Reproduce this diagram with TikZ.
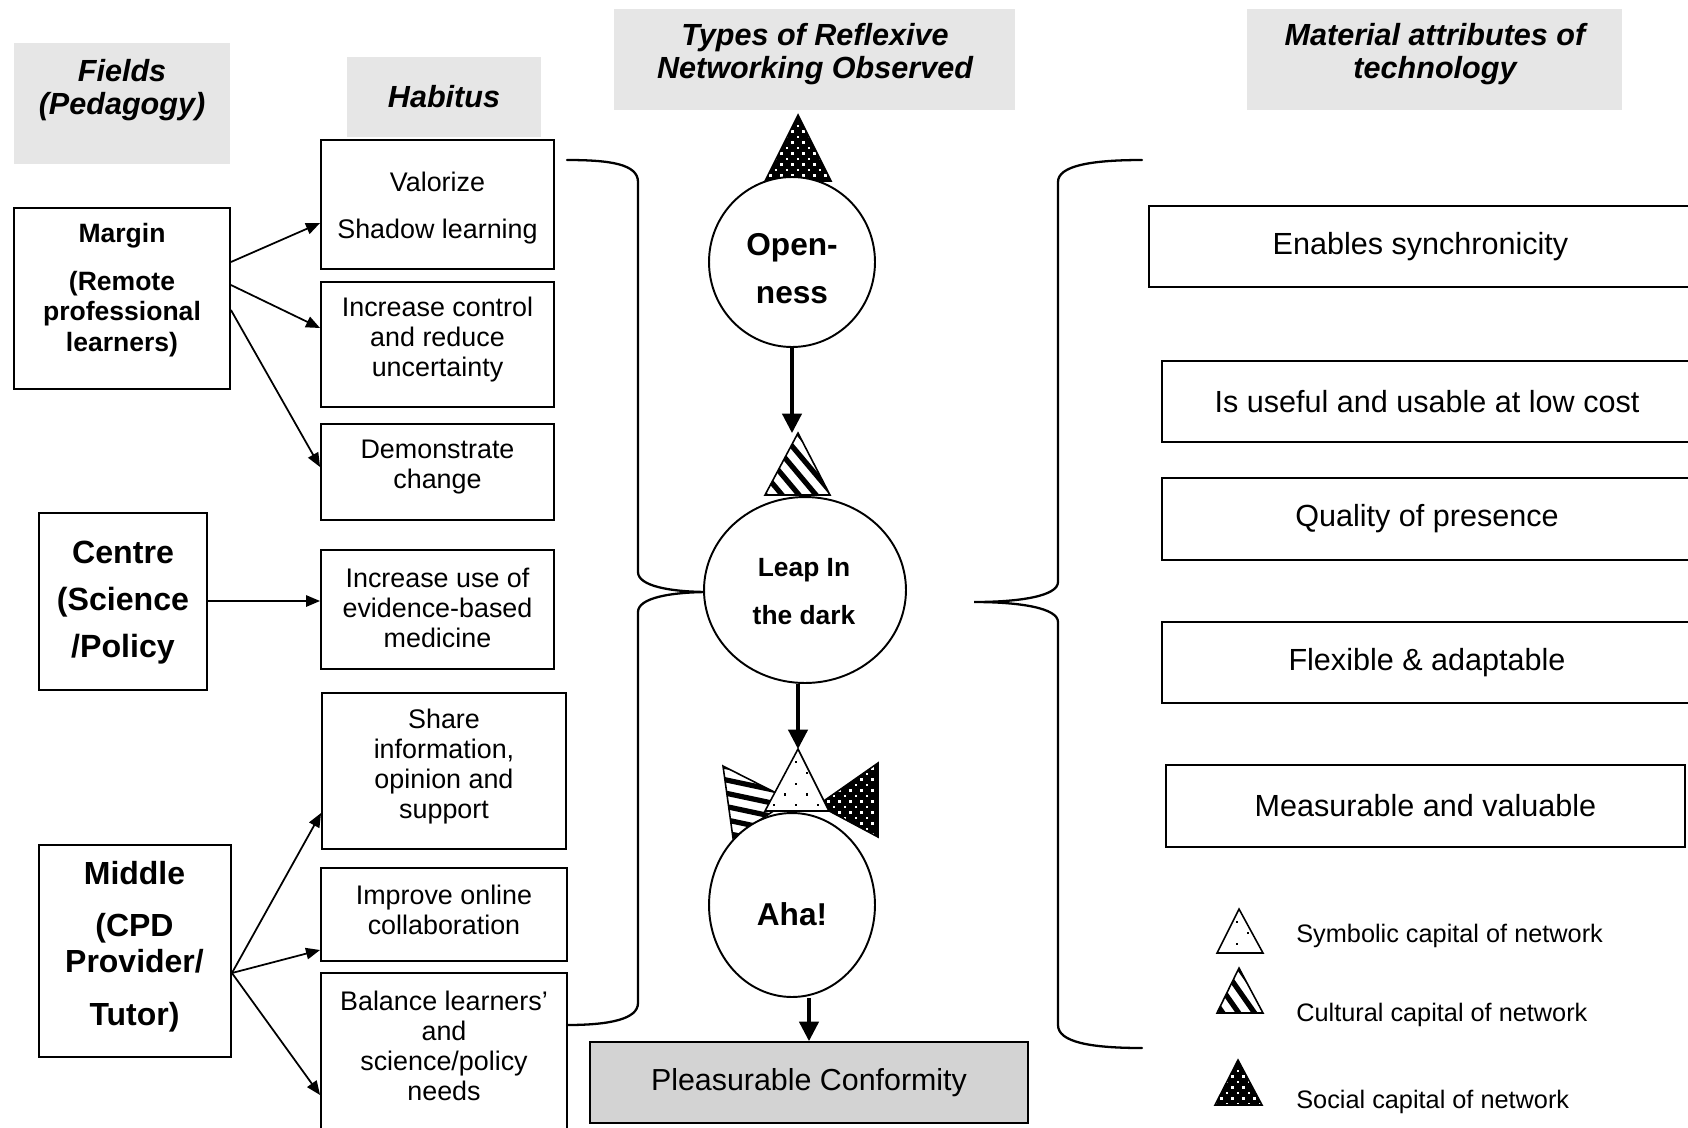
\documentclass[tikz,border=0pt]{standalone}
\usepackage{fontspec}
\setmainfont{Liberation Sans}
\usetikzlibrary{arrows.meta,shapes.geometric}
\definecolor{hdrgray}{HTML}{E6E6E6}
\definecolor{boxgray}{HTML}{D3D3D3}
\newcommand\fs[2]{\fontsize{#1}{#2}\selectfont}

% capital markers: black triangle with white dots (social)
\newcommand\socialtri[3]{%
  \begin{scope}
    \clip #1 -- #2 -- #3 -- cycle;
    \fill[black] #1 -- #2 -- #3 -- cycle;
    \begin{scope}[shift={#1}]
      \foreach \r in {-14,...,16}{
        \foreach \c in {-8,...,8}{
          \pgfmathsetmacro\dx{\c*11+mod(\r+100,2)*5.5}
          \pgfmathsetmacro\dy{\r*5.5}
          \fill[white] (\dx-1.3,\dy-1.3) rectangle (\dx+1.3,\dy+1.3);
        }}
    \end{scope}
  \end{scope}
  \draw[tri] #1 -- #2 -- #3 -- cycle;}

% white triangle with sparse black dots (symbolic)
\newcommand\symbtri[3]{%
  \begin{scope}
    \clip #1 -- #2 -- #3 -- cycle;
    \fill[white] #1 -- #2 -- #3 -- cycle;
    \begin{scope}[shift={#1}]
      \foreach \r in {0,...,6}{
        \foreach \c in {-4,...,4}{
          \pgfmathsetmacro\dx{-2+\c*22+mod(\r,2)*11}
          \pgfmathsetmacro\dy{13+\r*10.8}
          \fill[black] (\dx-1.1,\dy-1.1) rectangle (\dx+1.1,\dy+1.1);
        }}
    \end{scope}
  \end{scope}
  \draw[tri] #1 -- #2 -- #3 -- cycle;}

% white triangle with black stripes (cultural); #4 stripe angle, #5 origin
\newcommand\culturaltri[5]{%
  \begin{scope}
    \clip #1 -- #2 -- #3 -- cycle;
    \fill[white] #1 -- #2 -- #3 -- cycle;
    \begin{scope}[shift={#5}, rotate=#4]
      \foreach \k in {-10,...,10}{
        \fill[black] (-150,\k*13-2.6) rectangle (150,\k*13+2.6);
      }
    \end{scope}
  \end{scope}
  \draw[tri] #1 -- #2 -- #3 -- cycle;}

\begin{document}
\begin{tikzpicture}[x=0.02cm, y=-0.02cm,
  box/.style={draw, line width=1.1pt, inner sep=0pt},
  hdr/.style={fill=hdrgray, inner sep=0pt},
  hdrtxt/.style={align=center, inner sep=0pt, font=\bfseries\itshape\fs{17.4}{19.2}},
  habtxt/.style={align=center, inner sep=0pt, font=\fs{15.3}{17.1}},
  fieldtxt/.style={align=center, inner sep=0pt, font=\bfseries\fs{18.2}{20.5}},
  rtxt/.style={font=\fs{17.4}{20}},
  legtxt/.style={anchor=west, inner sep=0pt, font=\fs{14.4}{17}},
  bubble/.style={ellipse, draw, fill=white, line width=1.1pt, inner sep=0pt},
  bubtxt/.style={align=center, inner sep=0pt, font=\bfseries\fs{18}{27.3}},
  tri/.style={line width=0.9pt, line join=miter},
  arr/.style={line width=1pt, -{Triangle[length=8pt,width=6.5pt]}},
  bigarr/.style={line width=1.8pt, -{Triangle[length=11pt,width=11pt]}},
  brace/.style={line width=1.3pt, line cap=round}]

\useasboundingbox[fill=white] (0,0) rectangle (1688,1127);

% column headings
\node[hdr, minimum width=4.32cm, minimum height=2.42cm] (hFields) at (122,103.5) {};
\node[hdrtxt] (tFields) at (122,90) {Fields\\(Pedagogy)};
\node[hdr, minimum width=3.88cm, minimum height=1.6cm, font=\bfseries\itshape\fs{17.4}{19.2}] (hHabitus) at (444,97) {Habitus};
\node[hdr, minimum width=8.02cm, minimum height=2.02cm] (hTypes) at (814.5,59.5) {};
\node[hdrtxt] (tTypes) at (815,54) {Types of Reflexive\\Networking Observed};
\node[hdr, minimum width=7.5cm, minimum height=2.02cm] (hMat) at (1434.5,59.5) {};
\node[hdrtxt] (tMat) at (1435,54) {Material attributes of\\technology};

% fields
\node[box, minimum width=4.32cm, minimum height=3.62cm] (marg) at (122,298.5) {};
\node[align=center, inner sep=0pt, font=\bfseries\fs{15.1}{17.4}] (tMarg) at (122,290)
  {Margin\\[9.7pt](Remote\\professional\\learners)};
\node[box, minimum width=3.36cm, minimum height=3.54cm] (cent) at (123,601.5) {};
\node[align=center, inner sep=0pt, font=\bfseries\fs{18.3}{26.7}] (tCent) at (123,603)
  {Centre\\(Science\\/Policy};
\node[box, minimum width=3.84cm, minimum height=4.24cm] (mid) at (135,951) {};
\node[fieldtxt] (tMid) at (134.5,946.5)
  {Middle\\[9.1pt](CPD\\Provider/\\[9.7pt]Tutor)};

% habitus
\node[box, minimum width=4.66cm, minimum height=2.58cm] (h1) at (437.5,204.5) {};
\node[habtxt] (t1) at (437.5,208) {Valorize\\[9.6pt]Shadow learning};
\node[box, minimum width=4.66cm, minimum height=2.5cm] (h2) at (437.5,344.5) {};
\node[habtxt] (t2) at (437.5,339.5) {Increase control\\and reduce\\uncertainty};
\node[box, minimum width=4.66cm, minimum height=1.92cm] (h3) at (437.5,472) {};
\node[habtxt] (t3) at (437.5,467) {Demonstrate\\change};
\node[box, minimum width=4.66cm, minimum height=2.38cm] (h4) at (437.5,609.5) {};
\node[habtxt] (t4) at (437.5,607.5) {Increase use of\\evidence-based\\medicine};
\node[box, minimum width=4.88cm, minimum height=3.12cm] (h5) at (444,771) {};
\node[habtxt] (t5) at (444,766.5) {Share\\information,\\opinion and\\support};
\node[box, minimum width=4.92cm, minimum height=1.86cm] (h6) at (444,914.5) {};
\node[habtxt] (t6) at (444,910) {Improve online\\collaboration};
\node[box, minimum width=4.92cm, minimum height=3.34cm] (h7) at (444,1056.5) {};
\node[habtxt] (t7) at (444,1045.5) {Balance learners’\\and\\science/policy\\needs};

% field -> habitus
\draw[arr] (marg.east |- 0,262) -- (h1.west |- 0,223);
\draw[arr] (marg.east |- 0,285) -- (h2.west |- 0,328);
\draw[arr] (marg.east |- 0,310) -- (h3.west |- 0,467);
\draw[arr] (cent.east |- 0,601) -- (h4.west |- 0,601);
\draw[arr] (mid.east |- 0,973) -- (h5.west |- 0,813);
\draw[arr] (mid.east |- 0,973) -- (h6.west |- 0,950);
\draw[arr] (mid.east |- 0,973) -- (h7.west |- 0,1095);

% braces
\draw[brace] (567,160) .. controls (610,160) and (638,164) .. (638,182) -- (638,572)
  .. controls (638,586) and (670,592) .. (710,592)
  .. controls (670,592) and (638,598) .. (638,612) -- (638,1003)
  .. controls (638,1019) and (610,1025) .. (567,1025);
\draw[brace] (1142,160) .. controls (1090,160) and (1058,166) .. (1058,182) -- (1058,582)
  .. controls (1058,596) and (1020,602) .. (974,602)
  .. controls (1020,602) and (1058,608) .. (1058,622) -- (1058,1025)
  .. controls (1058,1042) and (1090,1048) .. (1142,1048);

% capital markers on the networking types
\socialtri{(798,115)}{(765,181)}{(831,181)}
\culturaltri{(798,433)}{(765,495)}{(830,495)}{-50}{(798,433)}
\culturaltri{(723,766)}{(733,838)}{(790,800)}{-12}{(723,766)}
\socialtri{(878,763)}{(878,837)}{(818,805)}
\symbtri{(798,749)}{(765,811)}{(829,811)}
\coordinate (cultTop) at (798,433);
\coordinate (symTop) at (798,749);

% networking types
\node[bubble, minimum width=3.32cm, minimum height=3.40cm] (open) at (792,262) {};
\node[bubtxt] (tOpen) at (792,269) {Open-\\ness};
\node[bubble, minimum width=4.04cm, minimum height=3.72cm] (leap) at (805,590) {};
\node[align=center, inner sep=0pt, font=\bfseries\fs{15}{27.3}] (tLeap) at (804,592) {Leap In\\the dark};
\node[bubble, minimum width=3.32cm, minimum height=3.68cm] (aha) at (792,905) {};
\node[bubtxt] (tAha) at (792,914) {Aha!};
\node[box, fill=boxgray, minimum width=8.76cm, minimum height=1.62cm, font=\fs{17.3}{20}] (conf) at (809,1082.5) {Pleasurable Conformity};

\draw[bigarr] (open.south) -- (open.south |- cultTop);
\draw[bigarr] (symTop |- leap.south) -- (symTop);
\draw[bigarr] (conf.north |- aha.south) -- (conf.north);

% material attributes
\node[box, rtxt, minimum width=10.86cm, minimum height=1.62cm] (r1) at (1420.5,246.5) {Enables synchronicity};
\node[box, rtxt, minimum width=10.6cm, minimum height=1.62cm] (r2) at (1427,401.5) {Is useful and usable at low cost};
\node[box, rtxt, minimum width=10.6cm, minimum height=1.64cm] (r3) at (1427,519) {Quality of presence};
\node[box, rtxt, minimum width=10.6cm, minimum height=1.62cm] (r4) at (1427,662.5) {Flexible \& adaptable};
\node[box, rtxt, minimum width=10.38cm, minimum height=1.64cm] (r5) at (1425.5,806) {Measurable and valuable};

% legend
\symbtri{(1239,909)}{(1217,953)}{(1263,953)}
\culturaltri{(1239,968)}{(1217,1013)}{(1263,1013)}{-55}{(1239,968)}
\socialtri{(1238,1060)}{(1215,1105)}{(1262,1105)}
\node[legtxt] (lSym) at (1296,936) {Symbolic capital of network};
\node[legtxt] (lCul) at (1296,1015) {Cultural capital of network};
\node[legtxt] (lSoc) at (1296,1102) {Social capital of network};
\end{tikzpicture}
\end{document}
